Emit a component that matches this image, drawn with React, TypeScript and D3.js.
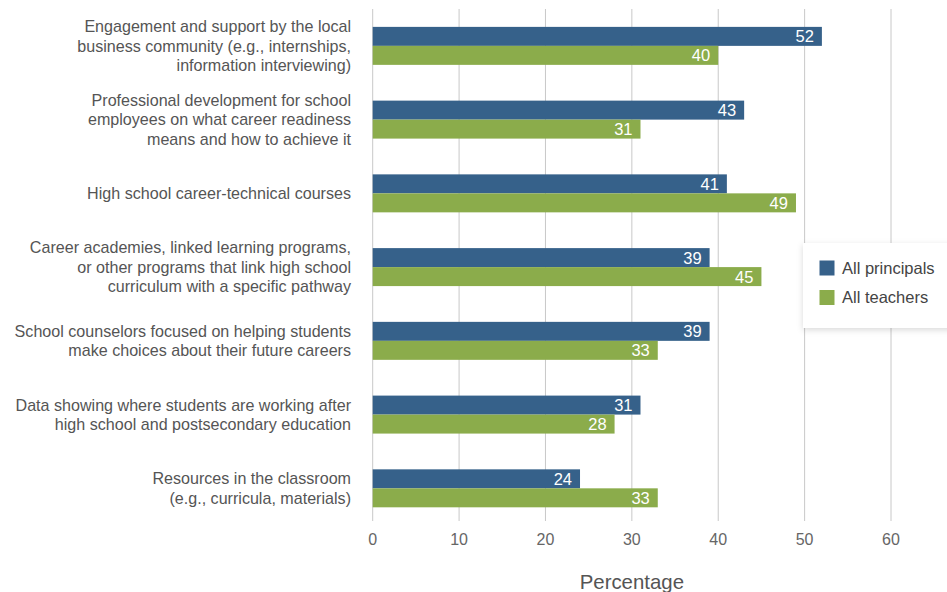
import React from "react";
import * as d3 from "d3";

const categories: string[][] = [
  ["Engagement and support by the local", "business community (e.g., internships,", "information interviewing)"],
  ["Professional development for school", "employees on what career readiness", "means and how to achieve it"],
  ["High school career-technical courses"],
  ["Career academies, linked learning programs,", "or other programs that link high school", "curriculum with a specific pathway"],
  ["School counselors focused on helping students", "make choices about their future careers"],
  ["Data showing where students are working after", "high school and postsecondary education"],
  ["Resources in the classroom", "(e.g., curricula, materials)"],
];
const principals = [52, 43, 41, 39, 39, 31, 24];
const teachers = [40, 31, 49, 45, 33, 28, 33];
const seriesNames = ["All principals", "All teachers"];
const colors = ["#36618a", "#8bac4b"];
const ticks = [0, 10, 20, 30, 40, 50, 60];
const axisTitle = "Percentage";

export default function App() {
  const W = 947, H = 592;
  const font = "'Liberation Sans', Arial, Helvetica, sans-serif";
  const x = d3.scaleLinear().domain([0, 60]).range([372.7, 891]);
  const ids = categories.map((_, i) => String(i));
  const y = d3.scaleBand().domain(ids).range([9, 525.2]).paddingInner(0.485).paddingOuter(0.2425);
  const sub = d3.scaleBand().domain(["0", "1"]).range([0, y.bandwidth()]);
  const series = [principals, teachers];
  const gridTop = 9, gridBottom = 521;
  const lh = 19.3;
  return (
    <svg width={W} height={H} style={{ position: "absolute", left: 0, top: 0, background: "#fff" }} fontFamily={font}>
      <defs>
        <filter id="sh" x="-20%" y="-20%" width="140%" height="150%">
          <feDropShadow dx="0" dy="2" stdDeviation="3" floodColor="#000" floodOpacity="0.15" />
        </filter>
      </defs>
      {ticks.map((t) => (
        <g key={t}>
          <line x1={x(t)} x2={x(t)} y1={gridTop} y2={gridBottom} stroke="#c8c8c8" strokeWidth={1} />
          <text x={x(t)} y={545} textAnchor="middle" fontSize={16} fill="#666">{t}</text>
        </g>
      ))}
      {categories.map((lines, i) => {
        const cy = (y(String(i)) as number) + y.bandwidth() / 2;
        const start = cy - ((lines.length - 1) * lh) / 2;
        return (
          <text key={i} textAnchor="end" fontSize={16.1} fill="#555">
            {lines.map((l, j) => (
              <tspan key={j} x={351} y={start + j * lh} dy="0.35em">{l}</tspan>
            ))}
          </text>
        );
      })}
      {series.map((vals, s) =>
        vals.map((v, i) => {
          const by = (y(String(i)) as number) + (sub(String(s)) as number);
          const bh = sub.bandwidth();
          return (
            <g key={s + "-" + i}>
              <rect x={x(0)} y={by} width={x(v) - x(0)} height={bh} fill={colors[s]} />
              <text x={x(v) - 8} y={by + bh / 2} dy="0.36em" textAnchor="end" fontSize={16.5} fill="#fff">{v}</text>
            </g>
          );
        })
      )}
      <g filter="url(#sh)">
        <rect x={803} y={243} width={160} height={85} fill="#fff" />
      </g>
      {seriesNames.map((n, s) => (
        <g key={n}>
          <rect x={819.5} y={260.5 + s * 29.5} width={15} height={15} fill={colors[s]} />
          <text x={842} y={268 + s * 29.5} dy="0.35em" fontSize={16.5} fill="#444">{n}</text>
        </g>
      ))}
      <text x={(x(0) + x(60)) / 2} y={582} dy="0.35em" textAnchor="middle" fontSize={20.4} fill="#555">{axisTitle}</text>
    </svg>
  );
}
